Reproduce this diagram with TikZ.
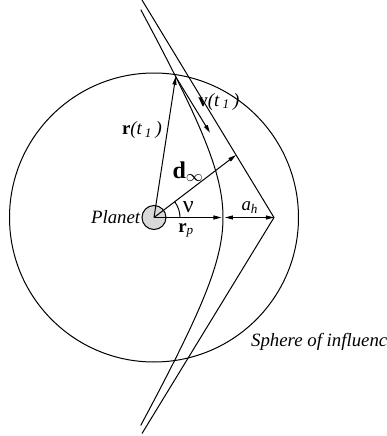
\documentclass[tikz,border=0pt]{standalone}
\usepackage{fontspec}
\setmainfont{Liberation Serif}
\usetikzlibrary{arrows.meta}
\tikzset{
  vec/.style={-{Triangle[length=4pt,width=2pt]}, line width=0.5pt},
  lbl/.style={inner sep=0pt, font=\fontsize{9.4}{11}\selectfont}
}
\begin{document}
\begin{tikzpicture}[x=0.5pt, y=0.5pt, line width=0.5pt]
    \useasboundingbox (-154,-218.5) rectangle (233,217.5);
    % Sphere of influence
    \draw (0,0) circle[radius=144.5];
    \node[lbl, anchor=west] (soi) at (96.7,-124.2) {\textit{Sphere of influence}};

    % Planet
    \node[circle, draw, fill=gray!30, minimum size=12pt, inner sep=0pt] (planet) at (0,0) {};
    \node[lbl, anchor=east] (plab) at (-13,0) {\textit{Planet}};

    % Asymptotes
    \coordinate (apex) at (120,0);
    \coordinate (asymtop) at (-12,217.5);
    \coordinate (asymbot) at (-12,-216);
    \draw (asymtop) -- (apex) -- (asymbot);

    % Hyperbolic path
    \draw plot[domain=-1.7:1.7, samples=60, smooth] ({114-45*cosh(\x)}, {78.6*sinh(\x)});

    % Points on the path
    \coordinate (peri) at (69,0);
    \coordinate (rtip) at (21.7,140.8);
    \coordinate (vtip) at (56,84.8);
    \coordinate (dtip) at (82,62.5);

    % Vectors
    \draw[vec] (planet.center) -- (rtip);
    \draw[vec] (rtip) -- (vtip);
    \draw[vec] (planet.center) -- (dtip);
    \draw[vec] (planet.center) -- (67.5,0) coordinate (rptip);
    \draw[{Triangle[length=4pt,width=2pt]}-{Triangle[length=4pt,width=2pt]}] (71,0) coordinate (ahtip) -- (apex);
    \draw ([shift={(0:26)}]planet.center) arc[start angle=0, end angle=37.3, radius=26];

    % Labels
    \node[lbl] (rlab) at (-12,87.5) {\textbf{r}\textit{(t\,\textsubscript{1}\,)}};
    \node[lbl] (vlab) at (65,115.8) {\textbf{v}\textit{(t\,\textsubscript{1}\,)}};
    \node[lbl] (dlab) at (34.3,45.8) {\fontsize{12}{14}\selectfont\textbf{d}$_{\infty}$};
    \node[lbl] (nulab) at (34.3,10.2) {\fontsize{12}{14}\selectfont ν};
    \node[lbl] (ahlab) at (96,9.5) {\textit{a\textsubscript{h}}};
    \node[lbl] (rplab) at (32.3,-12.5) {\textbf{r}\textsubscript{\textit{p}}};
\end{tikzpicture}
\end{document}
